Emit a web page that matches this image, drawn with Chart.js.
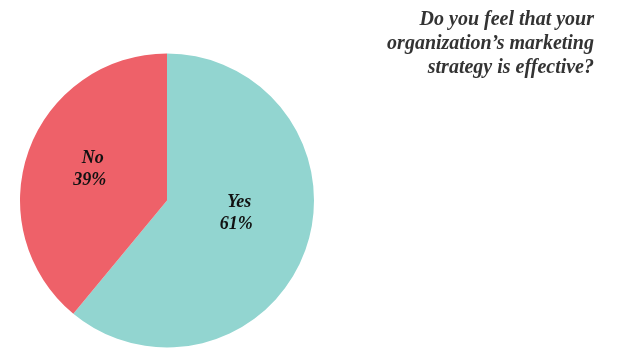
<!DOCTYPE html>
<html>
<head>
<meta charset="utf-8">
<script src="https://cdn.jsdelivr.net/npm/chart.js@4"></script>
<style>
  html, body { margin: 0; padding: 0; background: #fff; }
  #wrap { position: relative; width: 617px; height: 362px; }
  #title {
    position: absolute; right: 23px; top: 6px;
    text-align: right; color: #333;
    font: italic bold 20px/24px "Liberation Serif", serif;
  }
</style>
</head>
<body>
<div id="wrap">
  <canvas id="chart" width="617" height="362"></canvas>
  <div id="title">Do you feel that your<br>organization’s marketing<br>strategy is effective?</div>
</div>
<script>
const labels = ['Yes', 'No'];
const values = [61, 39];
const colors = ['#92d5d0', '#ee6169'];

// label text drawn inside each slice
const sliceLabels = {
  id: 'sliceLabels',
  afterDatasetsDraw(chart) {
    const { ctx } = chart;
    const meta = chart.getDatasetMeta(0);
    const nudge = [[0, -12], [-8, -6]];
    ctx.save();
    ctx.fillStyle = '#111';
    ctx.font = 'italic bold 18px "Liberation Serif", serif';
    ctx.textAlign = 'center';
    ctx.textBaseline = 'middle';
    meta.data.forEach((arc, i) => {
      const p = arc.tooltipPosition();
      const x = p.x + nudge[i][0], y = p.y + nudge[i][1];
      ctx.fillText(labels[i], x + 3, y - 11);
      ctx.fillText(values[i] + '%', x, y + 11);
    });
    ctx.restore();
  }
};

new Chart(document.getElementById('chart'), {
  type: 'pie',
  data: { labels, datasets: [{ data: values, backgroundColor: colors, borderWidth: 0 }] },
  options: {
    responsive: false,
    animation: false,
    layout: { padding: { left: 20, top: 53, right: 303, bottom: 14 } },
    plugins: { legend: { display: false }, tooltip: { enabled: false } }
  },
  plugins: [sliceLabels]
});
</script>
</body>
</html>
